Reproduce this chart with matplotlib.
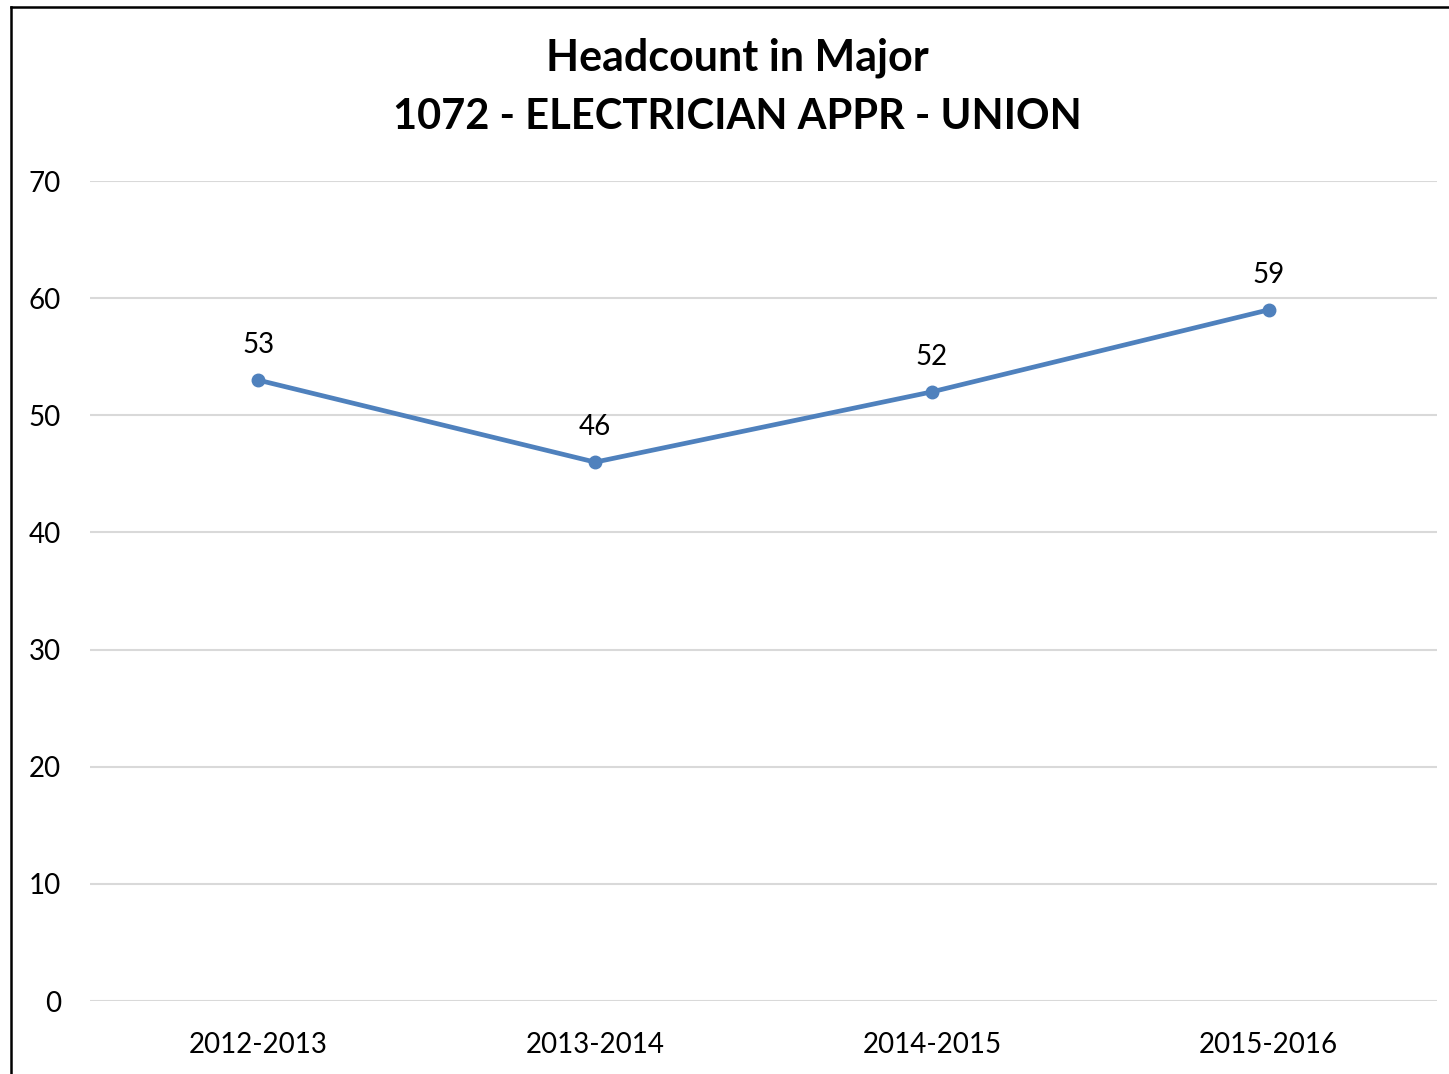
import matplotlib.pyplot as plt
from matplotlib.lines import Line2D

# chart data
years = ['2012-2013', '2013-2014', '2014-2015', '2015-2016']
headcount = [53, 46, 52, 59]
yticks = [0, 10, 20, 30, 40, 50, 60, 70]

plt.rcParams['font.family'] = ['Lato', 'DejaVu Sans']

fig = plt.figure(figsize=(14.49, 10.74), dpi=100)
ax = fig.add_axes([90 / 1449, 73 / 1074, 1347 / 1449, 820 / 1074])

x = list(range(len(years)))
ax.plot(x, headcount, color='#4F81BD', linewidth=3.4, marker='o',
        markersize=9, zorder=3)

# data labels above each point
for xi, v in zip(x, headcount):
    ax.annotate(str(v), (xi, v), xytext=(0, 16), textcoords='offset points',
                ha='center', va='bottom', fontsize=20, color='#000000')

ax.set_xlim(-0.5, len(years) - 0.5)
ax.set_ylim(0, 70)
ax.set_yticks(yticks)
ax.set_xticks(x)
ax.set_xticklabels(years)
ax.tick_params(axis='both', length=0, labelsize=20, colors='#000000')
ax.tick_params(axis='y', pad=21)
ax.tick_params(axis='x', pad=22)
ax.grid(axis='y', color='#D9D9D9', linewidth=1.5)
ax.set_axisbelow(True)
for s in ax.spines.values():
    s.set_visible(False)

# title
fig.text(737 / 1449, 1 - 58 / 1074, 'Headcount in Major', ha='center',
         va='center', fontsize=31, fontweight='bold')
fig.text(737 / 1449, 1 - 117 / 1074, '1072 - ELECTRICIAN APPR - UNION',
         ha='center', va='center', fontsize=30, fontweight='bold')

# outer border (left and top only visible)
fig.add_artist(Line2D([10.5 / 1449, 10.5 / 1449], [0, 1 - 6.5 / 1074],
                      transform=fig.transFigure, color='black', linewidth=1.8))
fig.add_artist(Line2D([10.5 / 1449, 1], [1 - 6.5 / 1074, 1 - 6.5 / 1074],
                      transform=fig.transFigure, color='black', linewidth=1.8))

fig.savefig('out.png', dpi=100)
